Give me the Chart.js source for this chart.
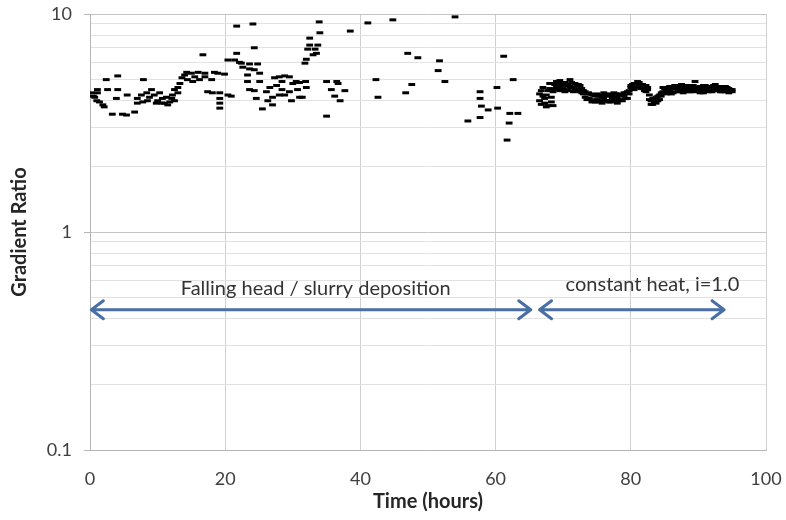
<!DOCTYPE html>
<html>
<head>
<meta charset="utf-8">
<script src="https://cdn.jsdelivr.net/npm/chart.js@4.4.0/dist/chart.umd.min.js"></script>
<style>
  html, body { margin: 0; padding: 0; background: #fff; }
  #wrap { width: 786px; height: 520px; }
</style>
</head>
<body>
<div id="wrap"><canvas id="myChart" width="786" height="520"></canvas></div>
<script>
// falling head / slurry deposition phase
const fallingHours = [0.2,0.5,0.7,1.0,1.1,1.1,1.4,1.9,2.1,2.4,2.6,3.3,3.9,4.1,4.1,4.8,5.4,5.5,6.6,7.0,
  7.0,7.6,7.8,7.9,8.4,8.5,8.8,9.1,9.5,9.8,10.0,10.3,10.6,10.7,11.0,11.3,11.5,11.8,12.1,12.2,
  12.5,12.5,13.0,13.0,13.3,13.6,14.0,14.3,14.4,15.0,15.2,15.5,16.0,16.2,16.7,17.0,17.0,17.4,18.0,18.1,
  18.4,18.9,19.2,19.2,19.2,19.2,19.9,20.4,20.4,20.9,21.4,21.7,21.7,22.1,22.4,22.6,23.3,23.3,23.6,23.6,
  23.6,24.1,24.3,24.3,24.3,24.6,24.8,25.1,25.1,25.5,26.1,26.3,26.6,27.0,27.0,27.3,27.6,28.0,28.0,28.4,
  28.4,28.8,28.8,29.5,29.5,29.8,30.0,30.5,30.7,31.0,31.0,31.4,31.8,31.9,32.0,32.0,32.2,32.5,32.5,33.0,
  33.3,33.5,33.7,33.9,34.0,35.0,35.0,35.7,36.2,36.5,36.7,37.0,37.7,38.5,41.1,42.3,42.6,44.8,46.7,47.0,
  47.6,48.5,51.5,51.7,52.5,54.0,55.9,57.7,57.7,57.7,57.9,58.9,60.2,60.3,61.2,61.7,62.0,62.1,62.6,63.3];
const fallingRatio = [4.35,4.2,4.15,4.0,4.35,4.5,3.95,3.83,3.75,5.0,4.5,3.47,4.1,5.2,4.5,3.47,3.44,4.25,3.55,4.1,
  3.9,4.25,3.95,5.0,4.35,4.0,4.15,4.5,4.25,3.9,4.0,4.35,3.9,4.1,3.9,4.15,3.83,3.95,4.1,4.25,
  4.0,4.5,4.6,4.35,4.8,5.1,5.25,5.4,5.0,5.35,4.9,5.15,5.4,5.0,6.5,5.35,5.15,4.4,5.0,4.35,
  5.4,5.35,4.35,4.1,3.9,3.7,5.3,6.15,4.25,4.2,6.15,8.8,6.6,6.0,5.95,5.7,5.25,4.9,5.9,5.6,
  4.5,9.0,7.0,5.55,4.45,4.1,5.9,5.35,4.9,3.67,4.4,4.0,4.6,3.83,4.15,5.1,4.7,5.15,4.25,4.9,
  4.5,5.2,4.25,5.15,4.4,4.0,4.8,4.9,4.5,4.85,4.15,4.15,5.95,4.9,6.2,4.6,6.9,7.2,7.75,6.5,
  6.9,6.6,7.2,9.2,8.2,4.9,3.4,4.5,4.2,4.9,4.8,4.0,4.45,8.35,9.1,5.0,4.15,9.4,4.35,6.6,
  4.75,6.3,5.5,6.1,4.9,9.7,3.23,4.4,4.1,3.35,3.78,3.63,4.6,3.7,6.4,2.64,3.16,3.5,5.0,3.5];

// constant head phase, i = 1.0 (two readings per time step)
const constantHours = [66.5,66.75,67,67.25,67.5,67.75,68,68.25,68.5,
  68.75,69,69.25,69.5,69.75,70,70.25,70.5,70.75,71,71.25,71.5,71.75,72,72.25,72.5,72.75,73,
  73.25,73.5,73.75,74,74.25,74.5,74.75,75,75.25,75.5,75.75,76,76.25,76.5,76.75,77,77.25,77.5,77.75,78,78.25,78.5,78.75,79,79.25,79.5,
  79.75,80,80.25,80.5,80.75,81,81.25,81.5,81.75,82,82.25,82.5,
  82.75,83,83.25,83.5,83.75,84,84.25,84.5,
  84.75,85,85.25,85.5,85.75,86,86.25,86.5,86.75,87,87.25,87.5,87.75,88,88.25,88.5,88.75,89,89.25,89.5,89.75,
  90,90.25,90.5,90.75,91,91.25,91.5,91.75,92,92.25,92.5,92.75,93,93.25,93.5,93.75,94,94.25,94.5,94.75,95];
const constantRatioA = [4.3,3.85,4.6,4.1,3.75,4.45,4.8,3.95,3.8,
  4.75,4.9,4.55,4.95,4.5,4.8,4.85,4.45,4.7,5.0,4.6,4.4,4.8,4.55,4.45,4.7,4.35,4.45,
  4.4,4.3,4.35,4.05,4.25,4.0,3.95,4.3,4.2,4.0,3.9,4.1,4.25,4.0,3.95,4.25,4.1,4.35,4.0,3.9,4.25,4.3,4.0,4.2,4.35,4.1,
  4.45,4.6,4.75,4.5,4.8,4.6,4.85,4.55,4.75,4.45,4.7,4.5,
  4.25,4.0,3.85,4.1,3.9,4.2,4.05,4.35,
  4.4,4.55,4.3,4.6,4.45,4.65,4.35,4.55,4.6,4.4,4.7,4.5,4.35,4.6,4.7,4.45,4.4,4.65,4.55,4.9,4.45,
  4.4,4.65,4.6,4.35,4.7,4.5,4.6,4.65,4.4,4.5,4.75,4.55,4.45,4.65,4.4,4.6,4.65,4.45,4.35,4.5,4.4];
const constantRatioB = [4.0,4.45,4.2,3.9,4.25,3.8,4.55,4.15,4.4,
  4.5,4.6,4.8,4.45,4.7,4.55,4.4,4.75,4.5,4.65,4.85,4.6,4.5,4.7,4.75,4.4,4.55,4.3,
  4.15,4.05,4.1,4.3,3.95,4.25,4.2,4.05,3.95,4.25,4.15,4.35,4.0,4.2,4.3,3.95,4.2,4.05,4.3,4.15,4.0,4.05,4.25,4.35,4.1,4.4,
  4.3,4.7,4.55,4.8,4.6,4.9,4.65,4.75,4.55,4.65,4.4,4.6,
  4.05,3.85,4.1,3.95,4.15,4.0,4.25,4.2,
  4.6,4.35,4.5,4.4,4.65,4.3,4.55,4.7,4.4,4.6,4.45,4.75,4.55,4.4,4.5,4.65,4.55,4.4,4.7,4.5,4.6,
  4.55,4.35,4.5,4.7,4.45,4.65,4.4,4.5,4.6,4.7,4.45,4.65,4.6,4.4,4.55,4.5,4.4,4.6,4.55,4.45,4.5];

const yTicks = [0.1,0.2,0.3,0.4,0.5,0.6,0.7,0.8,0.9,1,2,3,4,5,6,7,8,9,10];
const yLabels = [0.1, 1, 10];

// annotations (data units)
const arrows = [
  { from: 0.2, to: 65.2, y: 0.44 },
  { from: 66.5, to: 93.8, y: 0.44 }
];
const notes = [
  { text: "Falling head / slurry deposition", x: 33.4, y: 0.548 },
  { text: "constant heat, i=1.0", x: 83.2, y: 0.577 }
];

Chart.defaults.font.family = "Lato, 'Open Sans', sans-serif";

const arrowPlugin = {
  id: "arrows",
  afterDatasetsDraw(chart) {
    const ctx = chart.ctx;
    const xs = chart.scales.x, ys = chart.scales.y;
    ctx.save();
    ctx.strokeStyle = "#4a6fa5";
    ctx.lineWidth = 3;
    ctx.lineCap = "round";
    ctx.lineJoin = "round";
    arrows.forEach(function (a) {
      const x1 = xs.getPixelForValue(a.from);
      const x2 = xs.getPixelForValue(a.to);
      const y = ys.getPixelForValue(a.y);
      ctx.beginPath();
      ctx.moveTo(x1, y);
      ctx.lineTo(x2, y);
      // heads
      ctx.moveTo(x1 + 12, y - 9);
      ctx.lineTo(x1, y);
      ctx.lineTo(x1 + 12, y + 9);
      ctx.moveTo(x2 - 12, y - 9);
      ctx.lineTo(x2, y);
      ctx.lineTo(x2 - 12, y + 9);
      ctx.stroke();
    });
    ctx.fillStyle = "#333333";
    ctx.font = "20px Lato, 'Open Sans', sans-serif";
    ctx.textAlign = "center";
    ctx.textBaseline = "middle";
    notes.forEach(function (n) {
      ctx.fillText(n.text, xs.getPixelForValue(n.x), ys.getPixelForValue(n.y));
    });
    ctx.restore();
  }
};

const toPoints = (xv, yv) => xv.map((x, i) => ({ x: x, y: yv[i] }));

const pointStyle = {
  showLine: false,
  pointStyle: "line",
  pointRadius: 3.4,
  pointBorderWidth: 3,
  pointBorderColor: "#000",
  pointBackgroundColor: "#000",
  pointHoverRadius: 3.4
};

const config = {
  type: "scatter",
  data: {
    datasets: [
      Object.assign({ label: "falling head", data: toPoints(fallingHours, fallingRatio) }, pointStyle),
      Object.assign({ label: "constant head A", data: toPoints(constantHours, constantRatioA) }, pointStyle),
      Object.assign({ label: "constant head B", data: toPoints(constantHours, constantRatioB) }, pointStyle)
    ]
  },
  options: {
    responsive: false,
    animation: false,
    layout: { padding: { top: 14, right: 20, left: 0, bottom: 0 } },
    plugins: { legend: { display: false }, tooltip: { enabled: false } },
    scales: {
      x: {
        type: "linear",
        min: 0,
        max: 100,
        ticks: { stepSize: 20, color: "#404040", font: { size: 18 }, padding: 18 },
        grid: { color: "#d0d0d0", drawTicks: false },
        border: { color: "#b5b5b5" },
        title: { display: true, text: "Time (hours)", color: "#262626", font: { size: 20, weight: "bold" }, padding: { top: 2, bottom: 6 } },
        afterFit: function (s) { s.height = 70; s.paddingRight = 0; s.paddingLeft = 0; }
      },
      y: {
        type: "logarithmic",
        min: 0.1,
        max: 10,
        afterBuildTicks: function (s) { s.ticks = yTicks.map(v => ({ value: v })); },
        ticks: {
          autoSkip: false,
          color: "#404040",
          font: { size: 18 },
          padding: 12,
          callback: function (v) { return yLabels.includes(v) ? String(v) : ""; }
        },
        grid: {
          color: c => (c.tick && yLabels.includes(c.tick.value)) ? "#c4c4c4" : "#e2e2e2",
          tickColor: c => (c.tick && yLabels.includes(c.tick.value)) ? "#b5b5b5" : "rgba(0,0,0,0)",
          tickLength: 6
        },
        border: { color: "#b5b5b5" },
        title: { display: true, text: "Gradient Ratio", color: "#262626", font: { size: 20, weight: "bold" }, padding: { top: 8, bottom: 6 } },
        afterFit: function (s) { s.width = 90; s.paddingTop = 0; s.paddingBottom = 0; }
      }
    }
  },
  plugins: [arrowPlugin]
};

const myChart = new Chart(document.getElementById("myChart"), config);
</script>
</body>
</html>
